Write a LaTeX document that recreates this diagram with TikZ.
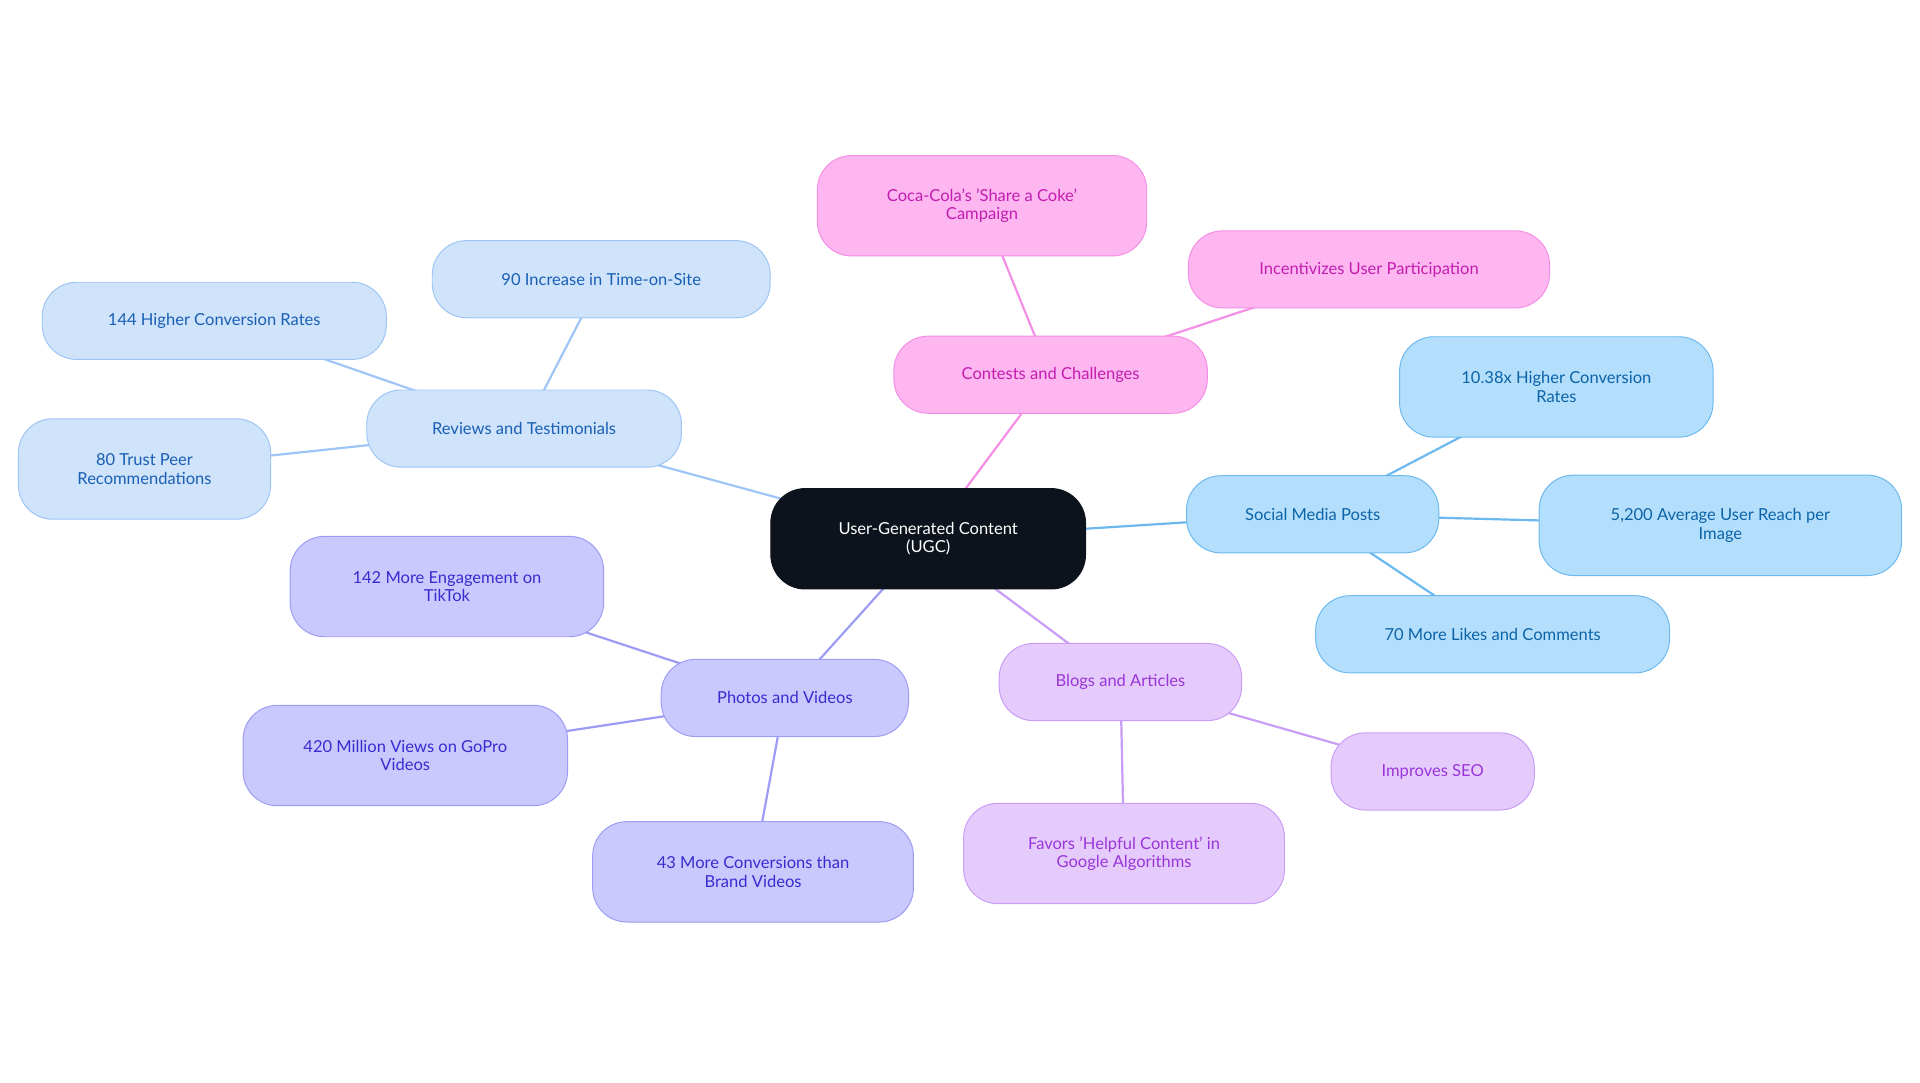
\documentclass[tikz,border=0pt]{standalone}
\usepackage{fontspec}
\setmainfont{Lato}
\usetikzlibrary{backgrounds}
\definecolor{ctr}{HTML}{0D131C}
\definecolor{rvF}{HTML}{CFE3FB}\definecolor{rvD}{HTML}{9EC5F5}\definecolor{rvT}{HTML}{1A5FB4}
\definecolor{ccF}{HTML}{FDB6F0}\definecolor{ccD}{HTML}{F48FE5}\definecolor{ccT}{HTML}{C21DB0}
\definecolor{smF}{HTML}{B3DFFC}\definecolor{smD}{HTML}{6CB8EF}\definecolor{smT}{HTML}{0C63A8}
\definecolor{blF}{HTML}{E5CBFC}\definecolor{blD}{HTML}{C99CF5}\definecolor{blT}{HTML}{9A35D8}
\definecolor{phF}{HTML}{C9C9FD}\definecolor{phD}{HTML}{9D9CF5}\definecolor{phT}{HTML}{3A2BD0}
\begin{document}
\begin{tikzpicture}[x=1pt,y=-1pt,
  box/.style={rounded corners=28pt,draw,line width=0.8pt,align=center,font=\fontsize{13.5}{15}\selectfont,inner sep=0pt},
  rv/.style={box,fill=rvF,draw=rvD,text=rvT},
  cc/.style={box,fill=ccF,draw=ccD,text=ccT},
  sm/.style={box,fill=smF,draw=smD,text=smT},
  bl/.style={box,fill=blF,draw=blD,text=blT},
  ph/.style={box,fill=phF,draw=phD,text=phT},
  e/.style={line width=1.8pt}]
\useasboundingbox (0,0) rectangle (1568,884);
\node[box,fill=ctr,draw=ctr,text=white,minimum width=257pt,minimum height=82pt] (c) at (758,440) {User-Generated Content\\(UGC)};
\node[rv,minimum width=257pt,minimum height=63pt] (rv) at (428,350) {Reviews and Testimonials};
\node[rv,minimum width=276pt,minimum height=63pt] (rv1) at (491,228) {90 Increase in Time-on-Site};
\node[rv,minimum width=281pt,minimum height=63pt] (rv2) at (175,262) {144 Higher Conversion Rates};
\node[rv,minimum width=206pt,minimum height=82pt] (rv3) at (118,383) {80 Trust Peer\\Recommendations};
\node[cc,minimum width=256pt,minimum height=63pt] (cc) at (858,306) {Contests and Challenges};
\node[cc,minimum width=269pt,minimum height=82pt] (cc1) at (802,168) {Coca-Cola's 'Share a Coke'\\Campaign};
\node[cc,minimum width=295pt,minimum height=63pt] (cc2) at (1118,220) {Incentivizes User Participation};
\node[sm,minimum width=206pt,minimum height=63pt] (sm) at (1072,420) {Social Media Posts};
\node[sm,minimum width=256pt,minimum height=82pt] (sm1) at (1271,316) {10.38x Higher Conversion\\Rates};
\node[sm,minimum width=296pt,minimum height=82pt] (sm2) at (1405,429) {5,200 Average User Reach per\\Image};
\node[sm,minimum width=289pt,minimum height=63pt] (sm3) at (1219,518) {70 More Likes and Comments};
\node[bl,minimum width=198pt,minimum height=63pt] (bl) at (915,557) {Blogs and Articles};
\node[bl,minimum width=166pt,minimum height=63pt] (bl1) at (1170,630) {Improves SEO};
\node[bl,minimum width=262pt,minimum height=82pt] (bl2) at (918,697) {Favors 'Helpful Content' in\\Google Algorithms};
\node[ph,minimum width=202pt,minimum height=63pt] (ph) at (641,570) {Photos and Videos};
\node[ph,minimum width=256pt,minimum height=82pt] (ph1) at (365,479) {142 More Engagement on\\TikTok};
\node[ph,minimum width=265pt,minimum height=82pt] (ph2) at (331,617) {420 Million Views on GoPro\\Videos};
\node[ph,minimum width=262pt,minimum height=82pt] (ph3) at (615,712) {43 More Conversions than\\Brand Videos};
\begin{scope}[on background layer]
\draw[e,rvD] (c.center)--(rv.center) (rv.center)--(rv1.center) (rv.center)--(rv2.center) (rv.center)--(rv3.center);
\draw[e,ccD] (c.center)--(cc.center) (cc.center)--(cc1.center) (cc.center)--(cc2.center);
\draw[e,smD] (c.center)--(sm.center) (sm.center)--(sm1.center) (sm.center)--(sm2.center) (sm.center)--(sm3.center);
\draw[e,blD] (c.center)--(bl.center) (bl.center)--(bl1.center) (bl.center)--(bl2.center);
\draw[e,phD] (c.center)--(ph.center) (ph.center)--(ph1.center) (ph.center)--(ph2.center) (ph.center)--(ph3.center);
\end{scope}
\end{tikzpicture}
\end{document}
